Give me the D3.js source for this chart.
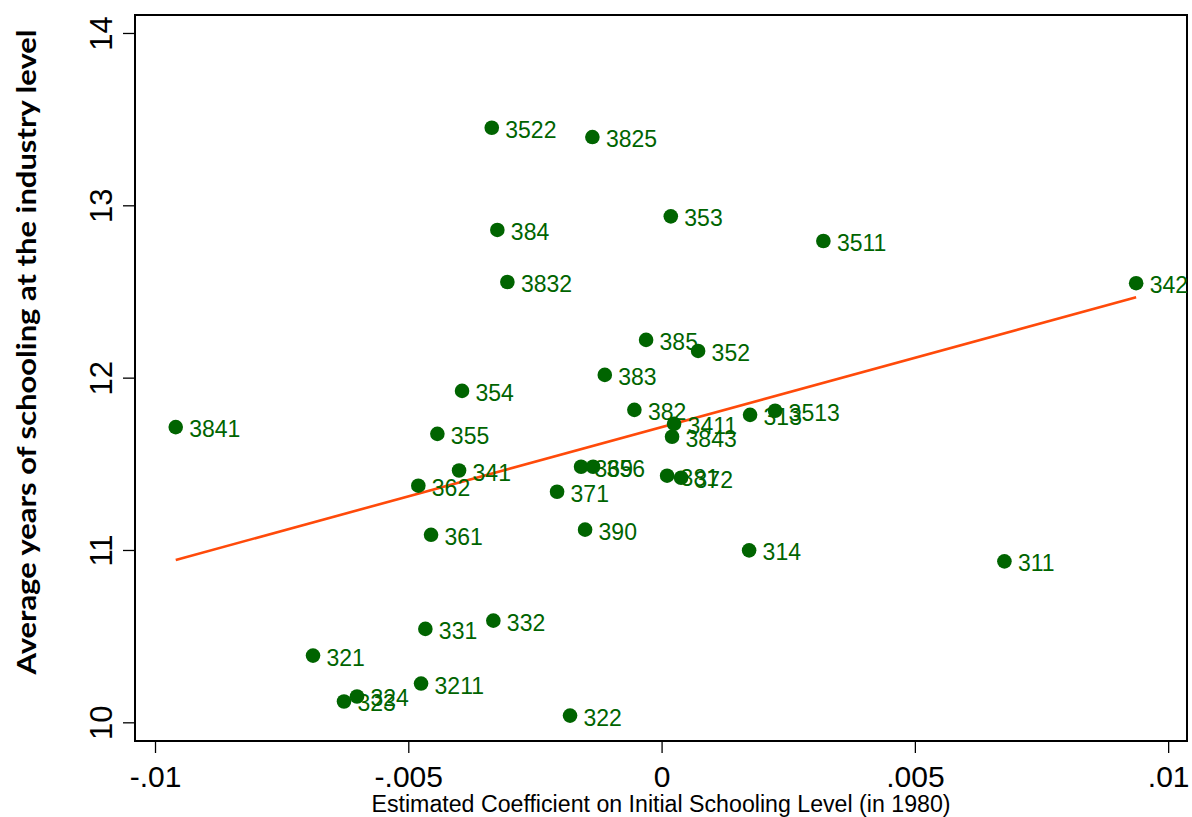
<!DOCTYPE html>
<html>
<head>
    <meta charset="UTF-8">
    <title>Schooling by industry</title>
    <style>
        body { margin: 0; background: #fff; }
        svg { display: block; }
    </style>
</head>
<body>
    <div id="chart"></div>
    <script src="https://cdn.jsdelivr.net/npm/d3@7"></script>
    <script>

    // industry codes (ISIC), estimated coefficient, average years of schooling
    const codes = ["3522", "3825", "353", "384", "3511", "3832", "342", "385", "352", "383",
        "354", "3841", "382", "3411", "3843", "313", "3513", "355", "341", "362",
        "369", "356", "381", "372", "371", "361", "390", "314", "311", "332",
        "331", "321", "3211", "324", "323", "322"];
    const coefs = [-0.003352, -0.001366, 0.000182, -0.003242, 0.003194, -0.003044, 0.009368, -0.000306, 0.000721, -0.001121,
        -0.003939, -0.009591, -0.000537, 0.000247, 0.000207, 0.001747, 0.002241, -0.004426, -0.003998, -0.004802,
        -0.001589, -0.001352, 0.000109, 0.000385, -0.002063, -0.004551, -0.00151, 0.001728, 0.006768, -0.003321,
        -0.004663, -0.006881, -0.004748, -0.006012, -0.006269, -0.001807];
    const schooling = [13.450, 13.396, 12.936, 12.857, 12.793, 12.555, 12.548, 12.219, 12.155, 12.016,
        11.923, 11.713, 11.813, 11.732, 11.657, 11.784, 11.808, 11.674, 11.461, 11.373,
        11.483, 11.483, 11.431, 11.419, 11.338, 11.088, 11.118, 10.998, 10.934, 10.590,
        10.542, 10.387, 10.225, 10.150, 10.121, 10.039];

    // fitted line
    const fitIntercept = 11.713;
    const fitSlope = 80.38;

    const xTicks = [-0.01, -0.005, 0, 0.005, 0.01];
    const xTickLabels = ["-.01", "-.005", "0", ".005", ".01"];
    const yTicks = [10, 11, 12, 13, 14];

    const width = 1192, height = 817;
    const margin = {top: 15, right: 5, bottom: 76, left: 135};

    const svg = d3.select("#chart")
        .append("svg")
        .attr("width", width)
        .attr("height", height);

    const x = d3.scaleLinear()
        .domain([-0.010395, 0.010372])
        .range([margin.left, width - margin.right]);
    const y = d3.scaleLinear()
        .domain([9.8916, 14.1043])
        .range([height - margin.bottom, margin.top]);

    const data = codes.map((c, i) => ({code: c, x: coefs[i], y: schooling[i]}));

    // frame
    svg.append("rect")
        .attr("x", x.range()[0])
        .attr("y", y.range()[1])
        .attr("width", x.range()[1] - x.range()[0])
        .attr("height", y.range()[0] - y.range()[1])
        .style("fill", "none")
        .style("stroke", "#000")
        .style("stroke-width", 2);

    // x axis
    const xAxis = svg.append("g")
        .attr("transform", `translate(0, ${y.range()[0]})`)
        .call(d3.axisBottom(x).tickValues(xTicks)
            .tickFormat((d, i) => xTickLabels[i])
            .tickSize(12).tickPadding(13));
    xAxis.select(".domain").remove();
    xAxis.selectAll("line").style("stroke", "#000").style("stroke-width", 1.3);
    xAxis.selectAll("text")
        .style("font-family", "'Liberation Sans', Arial, sans-serif")
        .style("font-size", "30px")
        .style("fill", "#000");

    // y axis, labels rotated
    const yAxis = svg.append("g")
        .attr("transform", `translate(${x.range()[0]}, 0)`)
        .call(d3.axisLeft(y).tickValues(yTicks).tickSize(12).tickFormat(d3.format("d")));
    yAxis.select(".domain").remove();
    yAxis.selectAll("line").style("stroke", "#000").style("stroke-width", 1.3);
    yAxis.selectAll("text")
        .attr("x", null).attr("dy", null)
        .attr("transform", "translate(-23, 0) rotate(-90)")
        .attr("text-anchor", "middle")
        .style("font-family", "'Liberation Sans', Arial, sans-serif")
        .style("font-size", "31px")
        .style("fill", "#000");

    // fitted line
    const xr = d3.extent(coefs);
    svg.append("line")
        .attr("x1", x(xr[0]))
        .attr("y1", y(fitIntercept + fitSlope * xr[0]))
        .attr("x2", x(xr[1]))
        .attr("y2", y(fitIntercept + fitSlope * xr[1]))
        .style("stroke", "#ff4a0a")
        .style("stroke-width", 2.6);

    // points
    svg.append("g")
        .selectAll("circle")
        .data(data)
        .join("circle")
        .attr("cx", d => x(d.x))
        .attr("cy", d => y(d.y))
        .attr("r", 7.3)
        .style("fill", "#006400");

    svg.append("g")
        .selectAll("text")
        .data(data)
        .join("text")
        .attr("x", d => x(d.x) + 13.5)
        .attr("y", d => y(d.y) + 10)
        .text(d => d.code)
        .style("font-family", "'Liberation Sans', Arial, sans-serif")
        .style("font-size", "23px")
        .style("fill", "#006400");

    // axis titles
    svg.append("text")
        .attr("x", (x.range()[0] + x.range()[1]) / 2)
        .attr("y", 812)
        .attr("text-anchor", "middle")
        .attr("textLength", 579)
        .attr("lengthAdjust", "spacingAndGlyphs")
        .style("font-family", "'Liberation Sans', Arial, sans-serif")
        .style("font-size", "23px")
        .style("fill", "#000")
        .text("Estimated Coefficient on Initial Schooling Level (in 1980)");

    svg.append("text")
        .attr("transform", "translate(36, 352) rotate(-90)")
        .attr("text-anchor", "middle")
        .attr("textLength", 645)
        .attr("lengthAdjust", "spacingAndGlyphs")
        .style("font-family", "Lato, 'Open Sans', sans-serif")
        .style("font-weight", "bold")
        .style("font-size", "26px")
        .style("fill", "#000")
        .text("Average years of schooling at the industry level");

    </script>
</body>
</html>
